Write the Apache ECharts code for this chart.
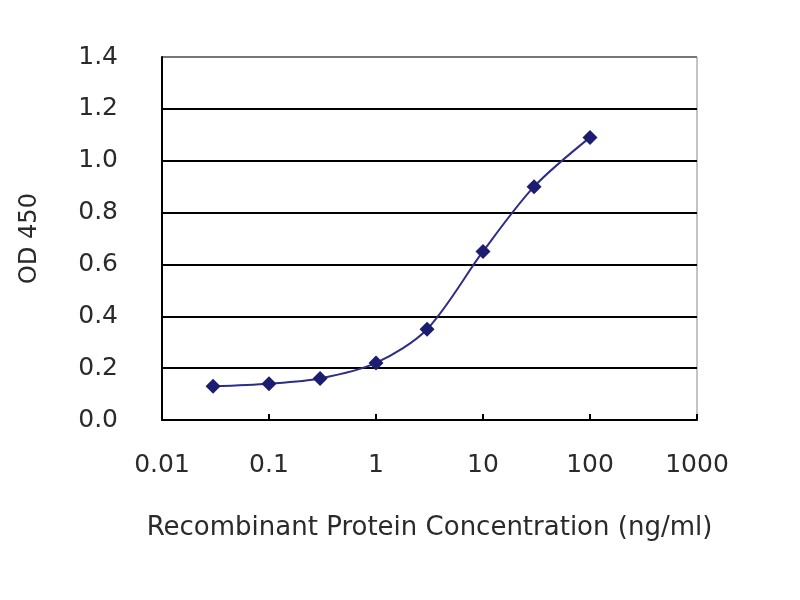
<!DOCTYPE html>
<html>
<head>
<meta charset="utf-8">
<script src="https://cdn.jsdelivr.net/npm/echarts@6/dist/echarts.min.js"></script>
<style>html,body{margin:0;padding:0;background:#fff;}#c{width:800px;height:600px;}</style>
</head>
<body>
<div id="c"></div>
<script>
const concentrations = [0.03, 0.1, 0.3, 1, 3, 10, 30, 100];
const odValues = [0.13, 0.14, 0.16, 0.22, 0.35, 0.65, 0.90, 1.09];
const xTickLabels = ['0.01', '0.1', '1', '10', '100', '1000'];
const xTitle = 'Recombinant Protein Concentration (ng/ml)';
const yTitle = 'OD 450';

const chart = echarts.init(document.getElementById('c'));
const font = 'DejaVu Sans';
chart.setOption({
  backgroundColor: '#fff',
  animation: false,
  grid: { left: 162, right: 103, top: 57, bottom: 180, show: true, borderColor: '#888', borderWidth: 1, backgroundColor: '#fff' },
  xAxis: {
    type: 'log', logBase: 10, min: 0.01, max: 1000,
    name: xTitle, nameLocation: 'middle', nameGap: 95,
    nameTextStyle: { fontFamily: font, fontSize: 26, color: '#2a2a2a' },
    axisLine: { lineStyle: { color: '#000', width: 2 } },
    axisTick: { inside: true, length: 6, lineStyle: { color: '#000', width: 2 } },
    axisLabel: {
      margin: 33, fontFamily: font, fontSize: 25, color: '#2a2a2a',
      formatter: function (v) {
        const e = Math.round(Math.log10(v));
        return xTickLabels[e + 2] !== undefined ? xTickLabels[e + 2] : '';
      }
    },
    splitLine: { show: false }
  },
  yAxis: {
    type: 'value', min: 0, max: 1.4, interval: 0.2,
    name: yTitle, nameLocation: 'middle', nameGap: 120, nameRotate: 90,
    nameTextStyle: { fontFamily: font, fontSize: 24, color: '#2a2a2a' },
    axisLine: { show: true, lineStyle: { color: '#000', width: 2 } },
    axisTick: { show: false },
    axisLabel: { margin: 44, fontFamily: font, fontSize: 25, color: '#2a2a2a', formatter: v => v.toFixed(1) },
    splitLine: { show: true, lineStyle: { color: ['#000', '#000', '#000', '#000', '#000', '#000', '#000', '#777'], width: 2 } }
  },
  series: [{
    type: 'line',
    data: concentrations.map((c, i) => [c, odValues[i]]),
    smooth: 0.3,
    symbol: 'diamond',
    symbolSize: 15,
    lineStyle: { color: '#2e2e86', width: 2 },
    itemStyle: { color: '#1c1c70' }
  }]
});
</script>
</body>
</html>
